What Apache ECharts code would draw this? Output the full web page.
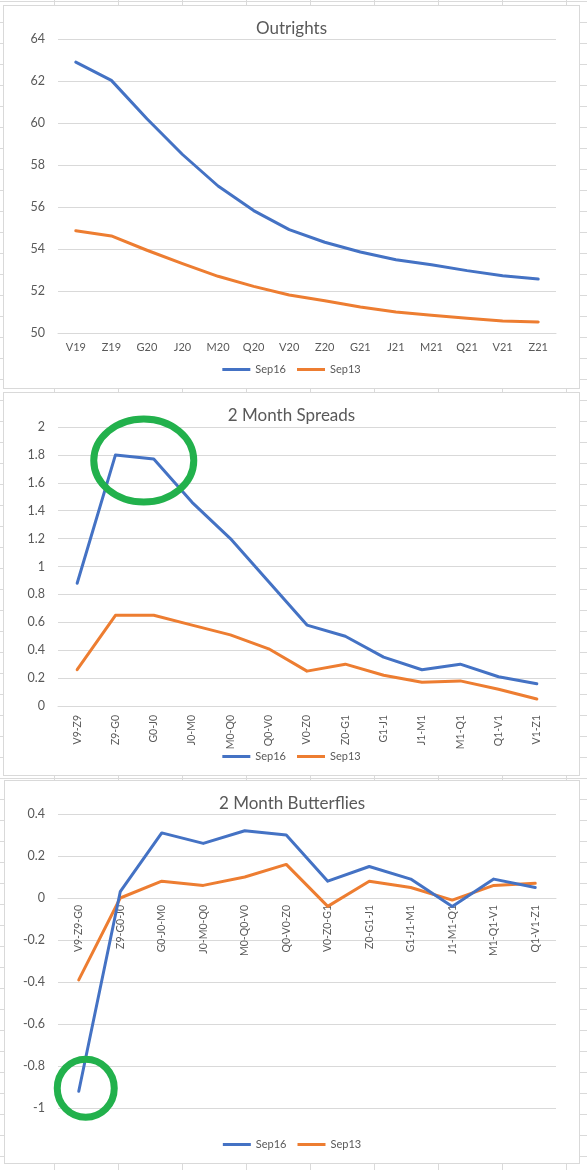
<!DOCTYPE html>
<html>
<head>
<meta charset="utf-8">
<script src="https://cdn.jsdelivr.net/npm/echarts@6/dist/echarts.min.js"></script>
<style>
    html, body {
        margin: 0;
        padding: 0;
    }
    body {
        width: 587px;
        height: 1170px;
        position: relative;
        overflow: hidden;
        background-color: #fff;
        /* excel cell grid behind the charts */
        background-image: linear-gradient(to right, #dadada 1px, transparent 1px),
                          linear-gradient(to bottom, #dadada 1px, transparent 1px);
        background-size: 64px 21px;
        background-position: 54px 1px;
    }
    .box {
        position: absolute;
        background: #fff;
        border: 1px solid #d9d9d9;
    }
    .box div.chart {
        width: 100%;
        height: 100%;
    }
</style>
</head>
<body>
<div class="box" style="left:3px;top:5px;width:575px;height:382px;"><div class="chart" id="outrights"></div></div>
<div class="box" style="left:3px;top:392px;width:575px;height:382px;"><div class="chart" id="spreads"></div></div>
<div class="box" style="left:4px;top:780px;width:574px;height:382px;"><div class="chart" id="flies"></div></div>
<script>
// 数据
var outrightCats = ['V19', 'Z19', 'G20', 'J20', 'M20', 'Q20', 'V20', 'Z20', 'G21', 'J21', 'M21', 'Q21', 'V21', 'Z21'];
var outrightSep16 = [62.9, 62.03, 60.2, 58.5, 57.0, 55.83, 54.92, 54.32, 53.86, 53.49, 53.25, 52.97, 52.73, 52.57];
var outrightSep13 = [54.87, 54.62, 53.94, 53.3, 52.7, 52.22, 51.81, 51.54, 51.24, 51.0, 50.84, 50.7, 50.57, 50.52];

var spreadCats = ['V9-Z9', 'Z9-G0', 'G0-J0', 'J0-M0', 'M0-Q0', 'Q0-V0', 'V0-Z0', 'Z0-G1', 'G1-J1', 'J1-M1', 'M1-Q1', 'Q1-V1', 'V1-Z1'];
var spreadSep16 = [0.88, 1.80, 1.77, 1.46, 1.20, 0.89, 0.58, 0.50, 0.35, 0.26, 0.30, 0.21, 0.16];
var spreadSep13 = [0.26, 0.65, 0.65, 0.58, 0.51, 0.41, 0.25, 0.30, 0.22, 0.17, 0.18, 0.12, 0.05];

var flyCats = ['V9-Z9-G0', 'Z9-G0-J0', 'G0-J0-M0', 'J0-M0-Q0', 'M0-Q0-V0', 'Q0-V0-Z0', 'V0-Z0-G1', 'Z0-G1-J1', 'G1-J1-M1', 'J1-M1-Q1', 'M1-Q1-V1', 'Q1-V1-Z1'];
var flySep16 = [-0.92, 0.03, 0.31, 0.26, 0.32, 0.30, 0.08, 0.15, 0.09, -0.04, 0.09, 0.05];
var flySep13 = [-0.39, 0.0, 0.08, 0.06, 0.10, 0.16, -0.04, 0.08, 0.05, -0.01, 0.06, 0.07];

var seriesNames = ['Sep16', 'Sep13'];

var BLUE = '#4472c4', ORANGE = '#ed7d31', GREEN = '#22b14c';
var TEXT = '#595959', GRID = '#d9d9d9';
var FONT = 'Lato, "Open Sans", sans-serif';

/**
 * 建一个 excel 风格的折线图
 */
function buildChart(domId, cfg) {
    var chart = echarts.init(document.getElementById(domId));
    var option = {
        animation: false,
        textStyle: {fontFamily: FONT},
        title: {
            text: cfg.title,
            left: 'center',
            top: 14,
            padding: 0,
            textStyle: {color: TEXT, fontSize: 17, fontWeight: 'normal', fontFamily: FONT}
        },
        legend: {
            data: seriesNames,
            top: 358,
            left: 'center',
            padding: 0,
            icon: 'rect',
            itemWidth: 28,
            itemHeight: 3,
            itemGap: 11,
            textStyle: {color: TEXT, fontSize: 11, fontFamily: FONT}
        },
        grid: {
            left: cfg.gridLeft,
            top: cfg.gridTop,
            width: 498,
            height: cfg.gridHeight,
            outerBoundsMode: 'none'
        },
        xAxis: {
            type: 'category',
            data: cfg.cats,
            boundaryGap: true,
            axisLine: {show: true, onZero: false, lineStyle: {color: GRID, width: 1}},
            axisTick: {show: false},
            axisLabel: {
                color: TEXT,
                fontSize: cfg.rotate ? 10.5 : 11,
                fontFamily: FONT,
                interval: 0,
                rotate: cfg.rotate,
                margin: cfg.labelMargin
            }
        },
        yAxis: {
            type: 'value',
            min: cfg.min,
            max: cfg.max,
            interval: cfg.interval,
            axisLine: {show: false},
            axisTick: {show: false},
            splitLine: {lineStyle: {color: GRID, width: 1}},
            axisLabel: {color: TEXT, fontSize: 12.5, fontFamily: FONT, margin: 13}
        },
        series: [{
            name: seriesNames[0],
            type: 'line',
            data: cfg.sep16,
            symbol: 'none',
            z: 3,
            lineStyle: {color: BLUE, width: 3, cap: 'round', join: 'round'},
            itemStyle: {color: BLUE}
        }, {
            name: seriesNames[1],
            type: 'line',
            data: cfg.sep13,
            symbol: 'none',
            z: 2,
            lineStyle: {color: ORANGE, width: 3, cap: 'round', join: 'round'},
            itemStyle: {color: ORANGE}
        }]
    };
    chart.setOption(option);

    // 横轴放到 0 的位置（excel 那样）
    if (cfg.min < 0) {
        var yZero = chart.convertToPixel({yAxisIndex: 0}, 0);
        var yMin = chart.convertToPixel({yAxisIndex: 0}, cfg.min);
        chart.setOption({xAxis: {offset: -(yMin - yZero)}});
    }

    // 绿色圈 标注
    if (cfg.ring) {
        var p = chart.convertToPixel({gridIndex: 0}, [cfg.ring.cat, cfg.ring.value]);
        chart.setOption({
            graphic: [{
                type: 'ellipse',
                z: 100,
                shape: {cx: p[0] + cfg.ring.dx, cy: p[1] + cfg.ring.dy, rx: cfg.ring.rx, ry: cfg.ring.ry},
                style: {fill: 'none', stroke: GREEN, lineWidth: 7}
            }]
        });
    }
    return chart;
}

buildChart('outrights', {
    title: 'Outrights',
    cats: outrightCats,
    sep16: outrightSep16,
    sep13: outrightSep13,
    min: 50, max: 64, interval: 2,
    gridLeft: 54, gridTop: 33, gridHeight: 294,
    rotate: 0, labelMargin: 9
});

buildChart('spreads', {
    title: '2 Month Spreads',
    cats: spreadCats,
    sep16: spreadSep16,
    sep13: spreadSep13,
    min: 0, max: 2, interval: 0.2,
    gridLeft: 54, gridTop: 34, gridHeight: 279,
    rotate: 90, labelMargin: 9,
    ring: {cat: 'G0-J0', value: 1.76, dx: -10, dy: 0, rx: 50, ry: 41.5}
});

buildChart('flies', {
    title: '2 Month Butterflies',
    cats: flyCats,
    sep16: flySep16,
    sep13: flySep13,
    min: -1, max: 0.4, interval: 0.2,
    gridLeft: 53, gridTop: 33, gridHeight: 294,
    rotate: 90, labelMargin: 7,
    ring: {cat: 'V9-Z9-G0', value: -0.92, dx: 7, dy: -3, rx: 28.5, ry: 29}
});
</script>
</body>
</html>
